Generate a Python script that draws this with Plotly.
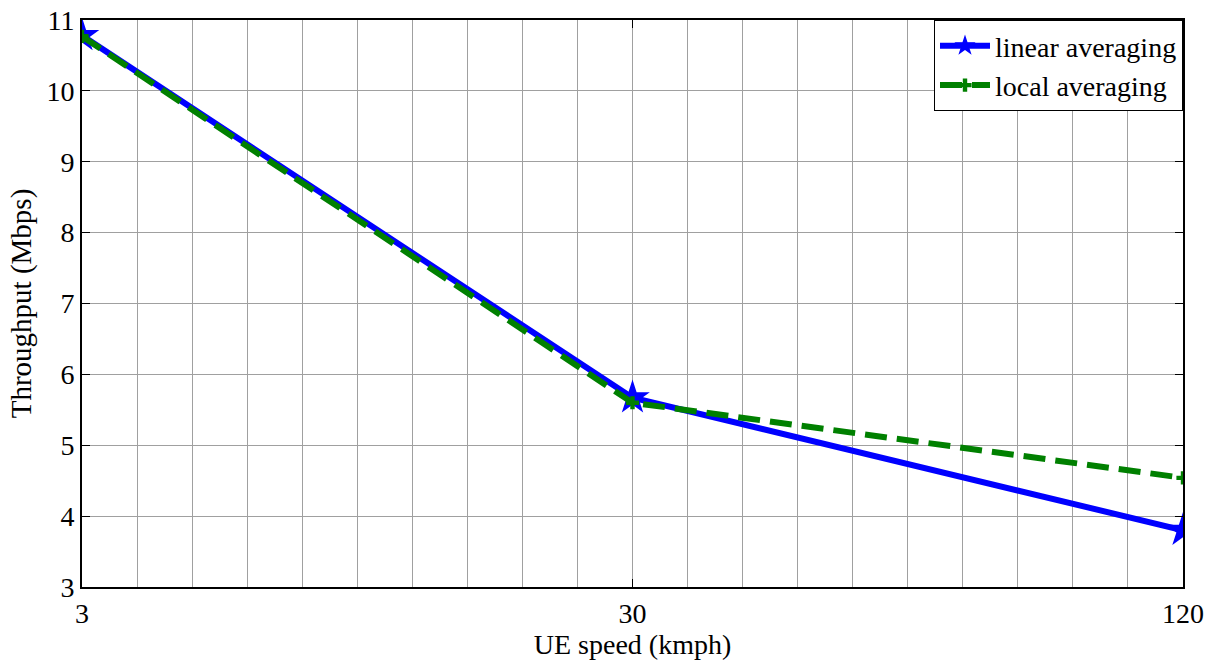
import plotly.graph_objects as go

speeds = ["3", "30", "120"]
linear_avg = [10.78, 5.67, 3.80]
local_avg = [10.77, 5.60, 4.54]

xpos = list(range(len(speeds)))

SERIF = "Liberation Serif"

fig = go.Figure()
fig.add_trace(go.Scatter(
    x=xpos, y=linear_avg, name="linear averaging", mode="lines+markers",
    line=dict(color="#0000FF", width=6),
    marker=dict(symbol="star", size=26, color="#0000FF"),
))
fig.add_trace(go.Scatter(
    x=xpos, y=local_avg, name="local averaging", mode="lines+markers",
    line=dict(color="#008000", width=6, dash="22px,10px"),
    marker=dict(symbol="cross", size=11, color="#008000"),
))

fig.update_layout(
    width=1212, height=663,
    margin=dict(l=82, r=29, t=20, b=76, autoexpand=False),
    paper_bgcolor="white", plot_bgcolor="white",
    font=dict(family=SERIF, size=28, color="black"),
    showlegend=True,
    legend=dict(x=1, y=1, xanchor="right", yanchor="top",
                bordercolor="black", borderwidth=1, bgcolor="white",
                font=dict(family=SERIF, size=28, color="black"),
                itemwidth=50, tracegroupgap=0),
)
fig.update_xaxes(
    range=[0, 2], tickvals=xpos, ticktext=speeds,
    tickfont=dict(family=SERIF, size=28, color="black"),
    showline=True, linecolor="black", linewidth=2, mirror="ticks",
    ticks="inside", ticklen=8, tickcolor="black",
    showgrid=False, zeroline=False, automargin=False,
    minor=dict(dtick=0.1, tick0=0, showgrid=True, gridcolor="#a0a0a0", gridwidth=1, ticks=""),
    title=dict(text="UE speed (kmph)", standoff=2,
               font=dict(family=SERIF, size=28, color="black")),
)
fig.update_yaxes(
    range=[3, 11], dtick=1,
    tickfont=dict(family=SERIF, size=28, color="black"),
    showline=True, linecolor="black", linewidth=2, mirror="ticks",
    ticks="inside", ticklen=8, tickcolor="black",
    showgrid=True, gridcolor="#a0a0a0", gridwidth=1, zeroline=False, automargin=False,
    title=dict(text="Throughput (Mbps)", standoff=6,
               font=dict(family=SERIF, size=29, color="black")),
)

fig.write_html("out.html", config={"displayModeBar": False},
               post_script="document.body.style.margin='0';")
